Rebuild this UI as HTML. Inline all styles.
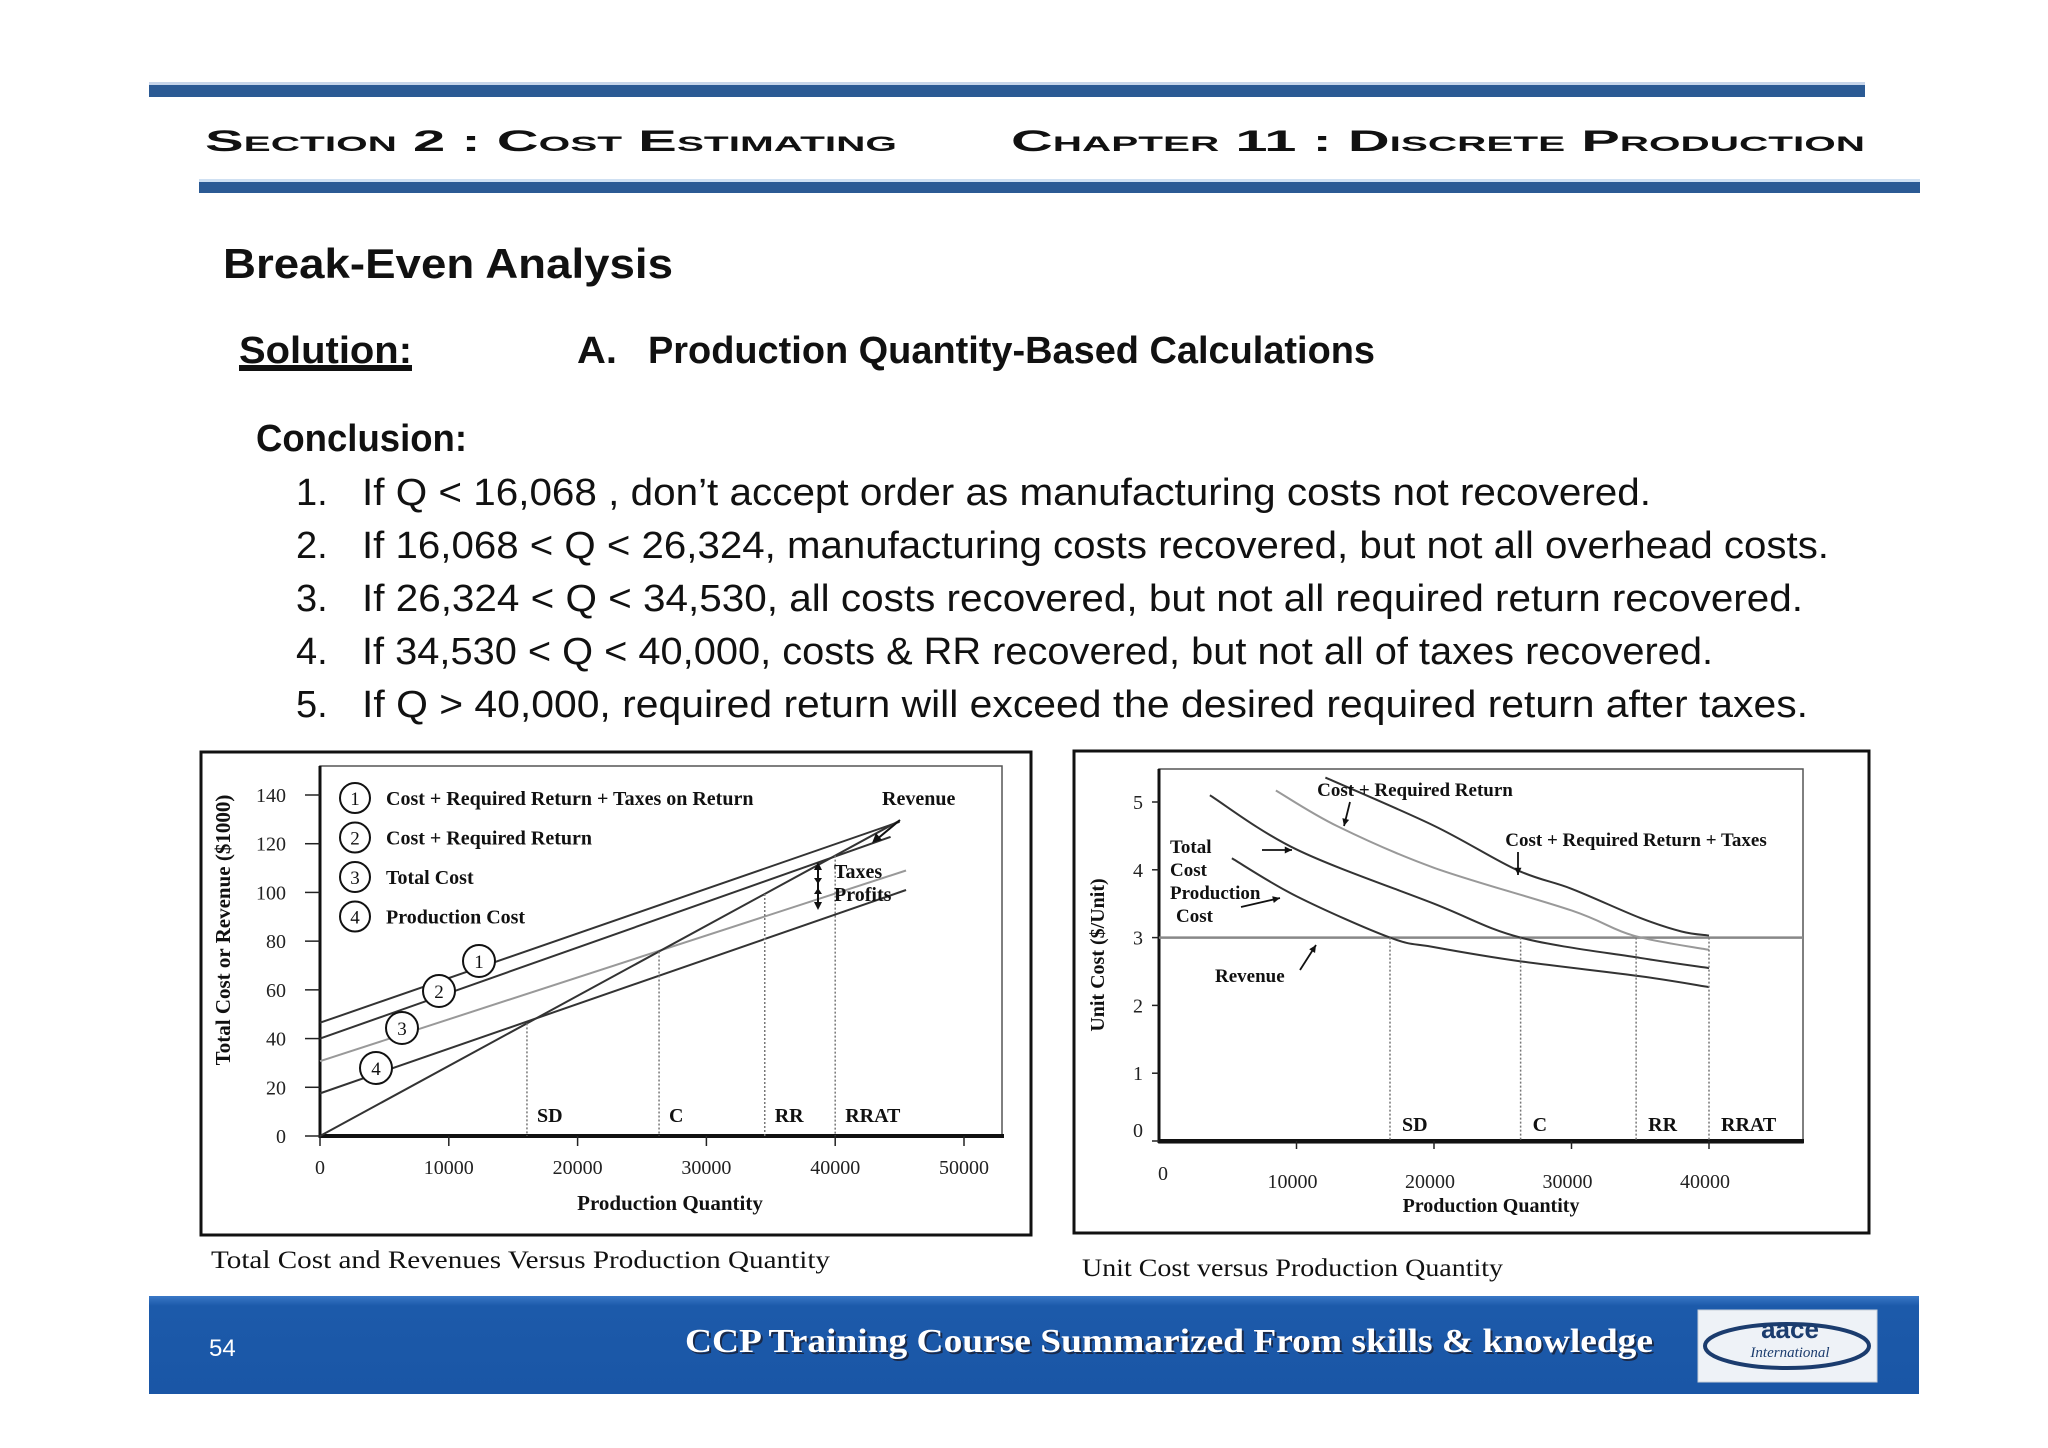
<!DOCTYPE html>
<html><head><meta charset="utf-8"><style>
html,body{margin:0;padding:0;background:#fff;}
svg{display:block;}
.serif{font-family:"Liberation Serif",serif;}
.sans{font-family:"Liberation Sans",sans-serif;}
</style></head><body>
<svg id="page" width="2048" height="1448" viewBox="0 0 2048 1448" xmlns="http://www.w3.org/2000/svg">
<defs>
<linearGradient id="footg" x1="0" y1="0" x2="0" y2="1"><stop offset="0" stop-color="#3a78c6"/><stop offset="0.1" stop-color="#1c5aaa"/><stop offset="1" stop-color="#1a56a6"/></linearGradient>
</defs>
<rect x="149" y="84" width="1716" height="13" fill="#2b5a94"/>
<rect x="149" y="82" width="1716" height="3" fill="#c7d5ea"/>
<text x="205" y="151" class="sans" font-weight="bold" font-size="30" style="font-variant:small-caps" textLength="692" lengthAdjust="spacingAndGlyphs" fill="#111">Section 2 : Cost Estimating</text>
<text x="1011" y="151" class="sans" font-weight="bold" font-size="30" style="font-variant:small-caps" textLength="854" lengthAdjust="spacingAndGlyphs" fill="#111">Chapter 11 : Discrete Production</text>
<rect x="199" y="181" width="1721" height="12" fill="#2b5a94"/>
<rect x="199" y="179" width="1721" height="3" fill="#cfe0f2"/>

<text x="223" y="278" class="sans" font-weight="bold" font-size="42" textLength="450" lengthAdjust="spacingAndGlyphs" fill="#111">Break-Even Analysis</text>
<text x="239" y="363" class="sans" font-weight="bold" font-size="38" textLength="173" lengthAdjust="spacingAndGlyphs" fill="#111" text-decoration="underline">Solution:</text>
<rect x="239" y="368" width="173" height="3" fill="#111"/>
<text x="577" y="363" class="sans" font-weight="bold" font-size="38" textLength="40" lengthAdjust="spacingAndGlyphs" fill="#111">A.</text>
<text x="648" y="363" class="sans" font-weight="bold" font-size="38" textLength="727" lengthAdjust="spacingAndGlyphs" fill="#111">Production Quantity-Based Calculations</text>
<text x="256" y="451" class="sans" font-weight="bold" font-size="38" textLength="211" lengthAdjust="spacingAndGlyphs" fill="#111">Conclusion:</text>
<g class="sans" font-size="38" fill="#111">
<text x="296" y="505">1.</text><text x="362" y="505" textLength="1289" lengthAdjust="spacingAndGlyphs">If Q &lt; 16,068 , don’t accept order as manufacturing costs not recovered.</text>
<text x="296" y="558">2.</text><text x="362" y="558" textLength="1467" lengthAdjust="spacingAndGlyphs">If 16,068 &lt; Q &lt; 26,324, manufacturing costs recovered, but not all overhead costs.</text>
<text x="296" y="611">3.</text><text x="362" y="611" textLength="1441" lengthAdjust="spacingAndGlyphs">If 26,324 &lt; Q &lt; 34,530, all costs recovered, but not all required return recovered.</text>
<text x="296" y="664">4.</text><text x="362" y="664" textLength="1351" lengthAdjust="spacingAndGlyphs">If 34,530 &lt; Q &lt; 40,000, costs &amp; RR recovered, but not all of taxes recovered.</text>
<text x="296" y="717">5.</text><text x="362" y="717" textLength="1446" lengthAdjust="spacingAndGlyphs">If Q &gt; 40,000, required return will exceed the desired required return after taxes.</text>
</g>

<!-- left chart -->
<rect x="201" y="752" width="830" height="483" fill="#fff" stroke="#111" stroke-width="3"/>
<g id="leftChart" class="serif"></g>
<text x="211" y="1268" class="serif" font-size="25" textLength="619" lengthAdjust="spacingAndGlyphs" fill="#111">Total Cost and Revenues Versus Production Quantity</text>

<!-- right chart -->
<rect x="1074" y="751" width="795" height="482" fill="#fff" stroke="#111" stroke-width="3"/>
<g id="rightChart" class="serif"></g>
<text x="1082" y="1276" class="serif" font-size="25" textLength="421" lengthAdjust="spacingAndGlyphs" fill="#111">Unit Cost versus Production Quantity</text>

<!-- footer -->
<rect x="149" y="1296" width="1770" height="98" fill="url(#footg)"/>
<text x="209" y="1356" class="sans" font-size="24" fill="#fff">54</text>
<text x="687" y="1354" class="serif" font-weight="bold" font-size="34" fill="#1a2a4a" textLength="968" lengthAdjust="spacingAndGlyphs">CCP Training Course Summarized From skills &amp; knowledge</text>
<text x="685" y="1352" class="serif" font-weight="bold" font-size="34" fill="#fff" textLength="968" lengthAdjust="spacingAndGlyphs">CCP Training Course Summarized From skills &amp; knowledge</text>
<g>
<rect x="1698" y="1310" width="179" height="72" fill="#eef2f7" stroke="#c8d0da"/>
<ellipse cx="1787" cy="1346" rx="82" ry="22" fill="none" stroke="#1b3c6e" stroke-width="4"/>
<text x="1790" y="1338" class="sans" font-weight="bold" font-size="26" text-anchor="middle" fill="#1b3c6e">aace</text>
<text x="1790" y="1357" class="serif" font-style="italic" font-size="15" text-anchor="middle" fill="#1b3c6e">International</text>
</g>
</svg>
<script>
// ---------- LEFT CHART DATA ----------
const leftSeriesNames = ['cost-rr-taxes-line','cost-rr-line','total-cost-line','production-cost-line','revenue-line'];
const leftStartValues = [46.5, 40, 30.7, 17.5, 0];
const leftEndValues = [129, 122.8, 109, 101, 129.5];
const leftEndQty = [45000, 44300, 45500, 45500, 45000];
const leftColors = ['#333','#333','#999','#333','#333'];
const leftXTicks = [0, 10000, 20000, 30000, 40000, 50000];
const leftYTicks = [0, 20, 40, 60, 80, 100, 120, 140];
const breakQty = [16068, 26324, 34530, 40000];
const breakLabels = ['SD','C','RR','RRAT'];
const legendLabels = ['Cost + Required Return + Taxes on Return','Cost + Required Return','Total Cost','Production Cost'];

// ---------- RIGHT CHART DATA ----------
const rightProdQ = [5.3, 10, 16.8, 20, 26.3, 35, 40];
const rightProdV = [4.17, 3.61, 3.0, 2.86, 2.65, 2.43, 2.27];
const rightTotalQ = [3.7, 10, 20, 26.3, 35, 40];
const rightTotalV = [5.1, 4.3, 3.5, 3.0, 2.7, 2.55];
const rightRRQ = [8.5, 13, 20, 30, 34.5, 40];
const rightRRV = [5.17, 4.64, 4.03, 3.4, 3.03, 2.82];
const rightTaxQ = [12.1, 20, 26, 30, 35, 38, 40];
const rightTaxV = [5.36, 4.65, 4.0, 3.72, 3.29, 3.09, 3.03];
const revenuePrice = 3;
const rightXTicks = [10000, 20000, 30000, 40000];
const rightYTicks = [0, 1, 2, 3, 4, 5];
const rightBreakQ = [16.8, 26.3, 34.7, 40];

const NS = 'http://www.w3.org/2000/svg';
function mk(parent, tag, attrs, text){
  const e = document.createElementNS(NS, tag);
  for (const k in attrs) e.setAttribute(k, attrs[k]);
  if (text !== undefined) e.textContent = text;
  parent.appendChild(e);
  return e;
}

// left axes
const L = document.getElementById('leftChart');
const lx = q => 320 + q * (644/50000);
const ly = v => 1136 - v * (341/140);
mk(L,'rect',{x:320,y:766,width:682,height:370,fill:'none',stroke:'#555','stroke-width':1.5});
let e;
e = mk(L,'line',{x1:320,y1:ly(0),x2:1004,y2:ly(0),stroke:'#111','stroke-width':4});
 
e = mk(L,'line',{x1:320,y1:766,x2:320,y2:1138,stroke:'#111','stroke-width':3});
 
leftYTicks.forEach(v=>{
  mk(L,'line',{x1:305,y1:ly(v),x2:320,y2:ly(v),stroke:'#222','stroke-width':1.5});
  e = mk(L,'text',{x:286,y:ly(v)+7,'font-size':20,'text-anchor':'end',fill:'#222'}, String(v));
   
});
leftXTicks.forEach(q=>{
  mk(L,'line',{x1:lx(q),y1:ly(0),x2:lx(q),y2:ly(0)+10,stroke:'#222','stroke-width':1.5});
  e = mk(L,'text',{x:lx(q),y:1174,'font-size':20,'text-anchor':'middle',fill:'#222'}, String(q));
   
});
e = mk(L,'text',{x:670,y:1210,'font-size':21,'font-weight':'bold','text-anchor':'middle',fill:'#111'},'Production Quantity');
 
e = mk(L,'text',{x:0,y:0,'font-size':21,'font-weight':'bold','text-anchor':'middle',fill:'#111',transform:'translate(230,930) rotate(-90)'},'Total Cost or Revenue ($1000)');
 

// left lines
leftSeriesNames.forEach((n,i)=>{
  const el = mk(L,'line',{x1:lx(0),y1:ly(leftStartValues[i]),x2:lx(leftEndQty[i]),y2:ly(leftEndValues[i]),stroke:leftColors[i],'stroke-width':2});
  
  
});
const revAt = q => leftStartValues[4] + (leftEndValues[4]-leftStartValues[4]) * q / leftEndQty[4];
breakQty.forEach((q,i)=>{
  const el = mk(L,'line',{x1:lx(q),y1:ly(revAt(q)),x2:lx(q),y2:ly(0),stroke:'#777','stroke-width':1.5,'stroke-dasharray':'2,2'});
  
  
  const t = mk(L,'text',{x:lx(q)+10,y:1122,'font-size':20,'font-weight':'bold',fill:'#111'}, breakLabels[i]);
  
  
});
// legend
legendLabels.forEach((s,i)=>{
  const cy = 798 + i*39.5;
  mk(L,'circle',{cx:355,cy:cy,r:15,fill:'#fff',stroke:'#111','stroke-width':2});
  mk(L,'text',{x:355,y:cy+7,'font-size':19,'text-anchor':'middle',fill:'#111'}, String(i+1));
  const t = mk(L,'text',{x:386,y:cy+7,'font-size':20,'font-weight':'bold',fill:'#111'}, s);
  
  
});
[[479,961],[439,991],[402,1028],[376,1068]].forEach((p,i)=>{
  mk(L,'circle',{cx:p[0],cy:p[1],r:16,fill:'#fff',stroke:'#111','stroke-width':2});
  mk(L,'text',{x:p[0],y:p[1]+7,'font-size':19,'text-anchor':'middle',fill:'#111'}, String(i+1));
});
mk(L,'text',{x:882,y:805,'font-size':20,'font-weight':'bold',fill:'#111'},'Revenue');
mk(L,'line',{x1:900,y1:820,x2:876,y2:840,stroke:'#111','stroke-width':2});
mk(L,'path',{d:'M872,843 l4,-10 l6,7 z',fill:'#111'});
mk(L,'line',{x1:818,y1:866,x2:818,y2:906,stroke:'#111','stroke-width':2});
mk(L,'path',{d:'M818,862 l-4,8 h8 z M818,910 l-4,-8 h8 z M818,884 l-4,-6 h8 z M818,888 l-4,6 h8 z',fill:'#111'});
mk(L,'text',{x:834,y:878,'font-size':20,'font-weight':'bold',fill:'#111'},'Taxes');
mk(L,'text',{x:834,y:901,'font-size':20,'font-weight':'bold',fill:'#111'},'Profits');

// right chart
const R = document.getElementById('rightChart');
const rx = qk => 1159 + qk * 13.75;
const ry = v => 1141 - v * 67.8;
mk(R,'rect',{x:1159,y:769,width:644,height:374,fill:'none',stroke:'#555','stroke-width':1.5});
e = mk(R,'line',{x1:1159,y1:ry(0),x2:1804,y2:ry(0),stroke:'#111','stroke-width':4});
 
e = mk(R,'line',{x1:1159,y1:769,x2:1159,y2:1143,stroke:'#111','stroke-width':3});
 
rightYTicks.forEach(v=>{
  mk(R,'line',{x1:1152,y1:ry(v),x2:1159,y2:ry(v),stroke:'#222','stroke-width':1.5});
  e = mk(R,'text',{x:1143,y:ry(v)+(v===0?-4:7),'font-size':20,'text-anchor':'end',fill:'#222'}, String(v));
   
});
mk(R,'text',{x:1163,y:1180,'font-size':20,'text-anchor':'middle',fill:'#222'},'0');
rightXTicks.forEach(q=>{
  mk(R,'line',{x1:rx(q/1000),y1:ry(0),x2:rx(q/1000),y2:ry(0)+8,stroke:'#222','stroke-width':1.5});
  e = mk(R,'text',{x:rx(q/1000)-4,y:1188,'font-size':20,'text-anchor':'middle',fill:'#222'}, String(q));
   
});
e = mk(R,'text',{x:1491,y:1212,'font-size':20,'font-weight':'bold','text-anchor':'middle',fill:'#111'},'Production  Quantity');
 
e = mk(R,'text',{x:0,y:0,'font-size':20,'font-weight':'bold','text-anchor':'middle',fill:'#111',transform:'translate(1104,955) rotate(-90)'},'Unit Cost ($/Unit)');
 

e = mk(R,'line',{x1:1159,y1:ry(revenuePrice),x2:1803,y2:ry(revenuePrice),stroke:'#888','stroke-width':2.5});
 

function curve(qs, vs, color, name){
  let d = 'M' + rx(qs[0]) + ',' + ry(vs[0]);
  for (let i=0;i<qs.length-1;i++){
    const p0=[rx(qs[Math.max(i-1,0)]),ry(vs[Math.max(i-1,0)])], p1=[rx(qs[i]),ry(vs[i])], p2=[rx(qs[i+1]),ry(vs[i+1])], p3=[rx(qs[Math.min(i+2,qs.length-1)]),ry(vs[Math.min(i+2,qs.length-1)])];
    const c1=[p1[0]+(p2[0]-p0[0])/6, p1[1]+(p2[1]-p0[1])/6], c2=[p2[0]-(p3[0]-p1[0])/6, p2[1]-(p3[1]-p1[1])/6];
    d += ' C'+c1[0]+','+c1[1]+' '+c2[0]+','+c2[1]+' '+p2[0]+','+p2[1];
  }
  const el = mk(R,'path',{d:d,fill:'none',stroke:color,'stroke-width':2});
  
  
}
curve(rightProdQ, rightProdV, '#333', 'unit-production-cost-curve');
curve(rightTotalQ, rightTotalV, '#333', 'unit-total-cost-curve');
curve(rightRRQ, rightRRV, '#999', 'unit-cost-rr-curve');
curve(rightTaxQ, rightTaxV, '#333', 'unit-cost-rr-taxes-curve');

rightBreakQ.forEach((q,i)=>{
  const el = mk(R,'line',{x1:rx(q),y1:ry(revenuePrice),x2:rx(q),y2:ry(0),stroke:'#777','stroke-width':1.5,'stroke-dasharray':'2,2'});
  
  
  const t = mk(R,'text',{x:rx(q)+12,y:1131,'font-size':20,'font-weight':'bold',fill:'#111'}, breakLabels[i]);
  
  
});
mk(R,'text',{x:1415,y:796,'font-size':19,'font-weight':'bold','text-anchor':'middle',fill:'#111'},'Cost  + Required Return');
mk(R,'text',{x:1636,y:846,'font-size':19,'font-weight':'bold','text-anchor':'middle',fill:'#111'},'Cost + Required Return + Taxes');
['Total','Cost','Production','Cost'].forEach((s,i)=>{
  mk(R,'text',{x:i===3?1176:1170,y:853+i*23,'font-size':19,'font-weight':'bold',fill:'#111'}, s);
});
mk(R,'text',{x:1215,y:982,'font-size':19,'font-weight':'bold',fill:'#111'},'Revenue');
function arrow(x1,y1,x2,y2){
  mk(R,'line',{x1:x1,y1:y1,x2:x2,y2:y2,stroke:'#111','stroke-width':1.8});
  const a=Math.atan2(y2-y1,x2-x1), s=8;
  mk(R,'path',{d:'M'+x2+','+y2+' L'+(x2-s*Math.cos(a-0.45))+','+(y2-s*Math.sin(a-0.45))+' L'+(x2-s*Math.cos(a+0.45))+','+(y2-s*Math.sin(a+0.45))+' z',fill:'#111'});
}
arrow(1350,802,1344,826);
arrow(1518,852,1518,875);
arrow(1262,850,1292,850);
arrow(1241,907,1280,898);
arrow(1300,970,1316,945);
</script>
</body></html>
